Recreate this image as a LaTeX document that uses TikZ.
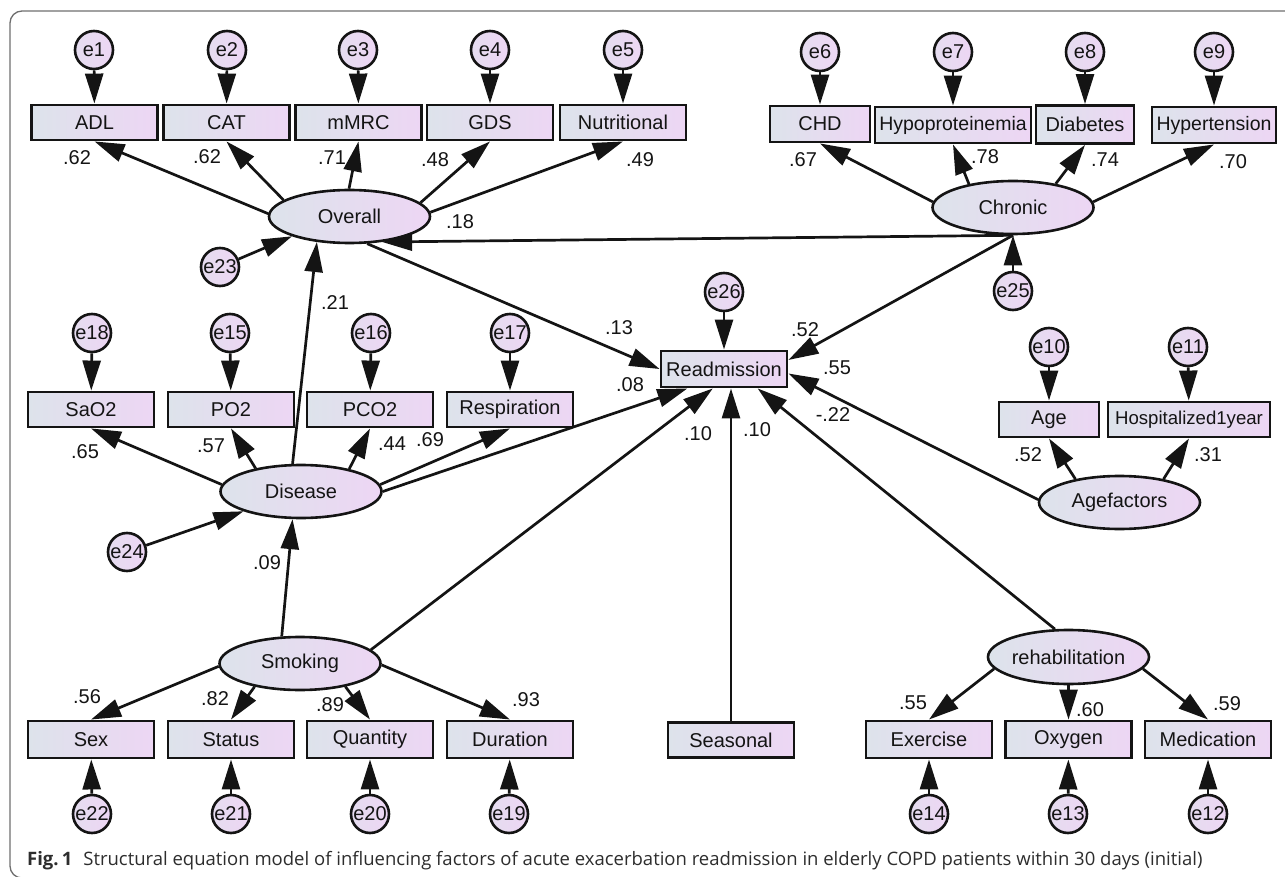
\documentclass[tikz,border=0pt]{standalone}
\usepackage{fontspec}
\setmainfont{Liberation Sans}
\newfontfamily\capfont{Open Sans}
\usetikzlibrary{arrows.meta,shapes.geometric}
\definecolor{gl}{RGB}{221,227,235}
\definecolor{gr}{RGB}{237,214,244}
\definecolor{ink}{RGB}{20,20,20}
\definecolor{framec}{RGB}{110,110,110}
\definecolor{capc}{RGB}{45,45,45}
\begin{document}
\begin{tikzpicture}[x=1pt,y=-1pt,
  font=\fontsize{20}{22}\selectfont,
  obs/.style={draw=ink,line width=2.9pt,left color=gl,right color=gr,minimum width=126pt,minimum height=35pt,inner sep=0pt,text=ink},
  lat/.style={ellipse,draw=ink,line width=2.6pt,left color=gl,right color=gr,minimum width=161pt,minimum height=53pt,inner sep=0pt,text=ink},
  err/.style={circle,draw=ink,line width=2.6pt,left color=gl!50!gr,right color=gr,minimum size=38pt,inner sep=0pt,text=ink},
  con/.style={draw=ink,line width=2.7pt,-{Triangle[length=30pt,width=18pt]}},
  lbl/.style={text=ink,inner sep=0pt}]
\useasboundingbox (0,0) rectangle (1285,877);
\draw[framec,line width=1.3pt,rounded corners=12pt] (40,878) -- (10,878) -- (10,11) -- (1300,11);

% top left group
\node[err] (e1) at (94,50) {e1};
\node[err] (e2) at (227,50) {e2};
\node[err] (e3) at (358,50) {e3};
\node[err] (e4) at (490,50) {e4};
\node[err] (e5) at (623,50) {e5};
\node[obs] (adl) at (94.5,122.5) {ADL};
\node[obs] (cat) at (226.5,122.5) {CAT};
\node[obs] (mmrc) at (358.5,122.5) {mMRC};
\node[obs] (gds) at (490,122.5) {GDS};
\node[obs] (nutr) at (623,122.5) {Nutritional};
\node[lat] (overall) at (349.5,216.5) {Overall};
\node[err] (e23) at (220,267) {e23};

% top right group
\node[err] (e6) at (820,52) {e6};
\node[err] (e7) at (953,52) {e7};
\node[err] (e8) at (1085,52) {e8};
\node[err] (e9) at (1214,52) {e9};
\node[obs,minimum width=100pt,minimum height=36pt] (chd) at (820,124) {CHD};
\node[obs,minimum width=156pt,minimum height=36pt,font=\fontsize{19.5}{22}\selectfont] (hypo) at (953,125) {Hypoproteinemia};
\node[obs,minimum width=98pt,minimum height=38pt] (diab) at (1085,124.5) {Diabetes};
\node[obs,minimum width=124pt,minimum height=36pt,font=\fontsize{19.5}{22}\selectfont] (hyper) at (1214,125) {Hypertension};
\node[lat] (chronic) at (1013,207.5) {Chronic};
\node[err] (e25) at (1013,291) {e25};

% centre
\node[err] (e26) at (724,292) {e26};
\node[obs,minimum height=36pt] (readm) at (724,369) {Readmission};
\node[obs] (seasonal) at (731,740) {Seasonal};

% disease group
\node[err] (e18) at (92,333) {e18};
\node[err] (e15) at (230,333) {e15};
\node[err] (e16) at (371,333) {e16};
\node[err] (e17) at (510,333) {e17};
\node[obs] (sao2) at (91,409.5) {SaO2};
\node[obs] (po2) at (231,409.5) {PO2};
\node[obs] (pco2) at (370,409.5) {PCO2};
\node[obs] (resp) at (510,409.5) {Respiration};
\node[lat] (disease) at (301,491.5) {Disease};
\node[err] (e24) at (127,552) {e24};

% age group
\node[err] (e10) at (1049,347) {e10};
\node[err] (e11) at (1188,347) {e11};
\node[obs,minimum width=100pt] (age) at (1049,419.5) {Age};
\node[obs,minimum width=162pt,font=\fontsize{18.6}{22}\selectfont] (hosp) at (1189,419.5) {Hospitalized1year};
\node[lat] (agef) at (1119.5,502.5) {Agefactors};

% smoking group
\node[lat] (smoking) at (300,663.5) {Smoking};
\node[obs,minimum height=37pt] (sex) at (91,739.5) {Sex};
\node[obs,minimum height=37pt] (status) at (231,739.5) {Status};
\node[obs,minimum height=37pt] (quantity) at (370,739.5) {Quantity};
\node[obs,minimum height=37pt] (duration) at (510,739.5) {Duration};
\node[err] (e22) at (92,814) {e22};
\node[err] (e21) at (231,814) {e21};
\node[err] (e20) at (370,814) {e20};
\node[err] (e19) at (509,814) {e19};

% rehabilitation group
\node[lat,minimum height=54pt] (rehab) at (1068.5,657) {rehabilitation};
\node[obs,minimum height=37pt] (exercise) at (929,739.5) {Exercise};
\node[obs,minimum height=37pt] (oxygen) at (1068.5,739.5) {Oxygen};
\node[obs,minimum height=37pt] (medication) at (1208,739.5) {Medication};
\node[err] (e14) at (929,814) {e14};
\node[err] (e13) at (1068,814) {e13};
\node[err] (e12) at (1208,814) {e12};

% error arrows
\foreach \a/\b in {e1/adl,e2/cat,e3/mmrc,e4/gds,e5/nutr,e6/chd,e7/hypo,e8/diab,e9/hyper,
  e18/sao2,e15/po2,e16/pco2,e17/resp,e10/age,e11/hosp,e26/readm,
  e22/sex,e21/status,e20/quantity,e19/duration,e14/exercise,e13/oxygen,e12/medication}
  \draw[con] (\a) -- (\b);
\draw[con] (e23) -- (overall.199);
\draw[con] (e25) -- (chronic.south);
\draw[con] (e24) -- (disease.199.5);

% Overall
\draw[con] (overall.178) -- (adl.south);
\draw[con] (overall.166) -- (cat.south);
\draw[con] (overall.91) -- (mmrc.south);
\draw[con] (overall.11) -- (gds.south);
\draw[con] (overall.3) -- (nutr.south);
\draw[con] (overall.303) -- (readm.west);
% Chronic
\draw[con] (chronic.176) -- (chd.south);
\draw[con] (chronic.152) -- (hypo.south);
\draw[con] (chronic.29) -- (diab.south);
\draw[con] (chronic.4) -- (hyper.south);
\draw[con] (chronic.270) -- (overall.322);
\draw[con] (chronic.270) -- (readm.8);
% Disease
\draw[con] (disease.175) -- (sao2.south);
\draw[con] (disease.153) -- (po2.south);
\draw[con] (disease.25) -- (pco2.south);
\draw[con] (disease.5) -- (resp.south);
\draw[con] (disease.0) -- (readm.208);
\draw[con] (disease.107) -- (overall.218);
% Smoking
\draw[con] (smoking.124) -- (disease.253);
\draw[con] (smoking.182) -- (sex.north);
\draw[con] (smoking.207.6) -- (status.north);
\draw[con] (smoking.333.4) -- (quantity.north);
\draw[con] (smoking.359) -- (duration.north);
\draw[con] (smoking.11) -- (readm.240);
% Seasonal
\draw[con] (seasonal.north) -- (readm.south -| seasonal.north);
% rehabilitation
\draw[con] (rehab.116.6) -- (readm.330);
\draw[con] (rehab.189.6) -- (exercise.north);
\draw[con] (rehab.south) -- (oxygen.north);
\draw[con] (rehab.351) -- (medication.north);
% Agefactors
\draw[con] (agef.178) -- (readm.356);
\draw[con] (agef.152) -- (age.south);
\draw[con] (agef.28) -- (hosp.south);

% coefficients
\node[lbl] (l1) at (77,158) {.62};
\node[lbl] (l2) at (207,157) {.62};
\node[lbl] (l3) at (332,158) {.71};
\node[lbl] (l4) at (435,160) {.48};
\node[lbl] (l5) at (640,160) {.49};
\node[lbl] (l6) at (460,222) {.18};
\node[lbl] (l7) at (803,160) {.67};
\node[lbl] (l8) at (985,157) {.78};
\node[lbl] (l9) at (1105,160) {.74};
\node[lbl] (l10) at (1233,162) {.70};
\node[lbl] (l11) at (335,303) {.21};
\node[lbl] (l12) at (619,328) {.13};
\node[lbl] (l13) at (805,330) {.52};
\node[lbl] (l14) at (837,368) {.55};
\node[lbl] (l15) at (833,415) {-.22};
\node[lbl] (l16) at (630,385) {.08};
\node[lbl] (l17) at (698,434) {.10};
\node[lbl] (l18) at (757,430) {.10};
\node[lbl] (l19) at (85,452) {.65};
\node[lbl] (l20) at (211,446) {.57};
\node[lbl] (l21) at (392,444) {.44};
\node[lbl] (l22) at (430,440) {.69};
\node[lbl] (l23) at (1028,455) {.52};
\node[lbl] (l24) at (1208,455) {.31};
\node[lbl] (l25) at (267,563) {.09};
\node[lbl] (l26) at (87,697) {.56};
\node[lbl] (l27) at (215,699) {.82};
\node[lbl] (l28) at (330,705) {.89};
\node[lbl] (l29) at (526,700) {.93};
\node[lbl] (l30) at (913,703) {.55};
\node[lbl] (l31) at (1090,710) {.60};
\node[lbl] (l32) at (1227,704) {.59};

% caption
\node[anchor=base west,inner sep=0pt,text=capc,font=\capfont\fontsize{18.5}{22}\selectfont] (cap) at (27,865)
  {\textbf{Fig.\,1}\hspace{11pt}Structural equation model of influencing factors of acute exacerbation readmission in elderly COPD patients within 30 days (initial)};
\end{tikzpicture}
\end{document}
